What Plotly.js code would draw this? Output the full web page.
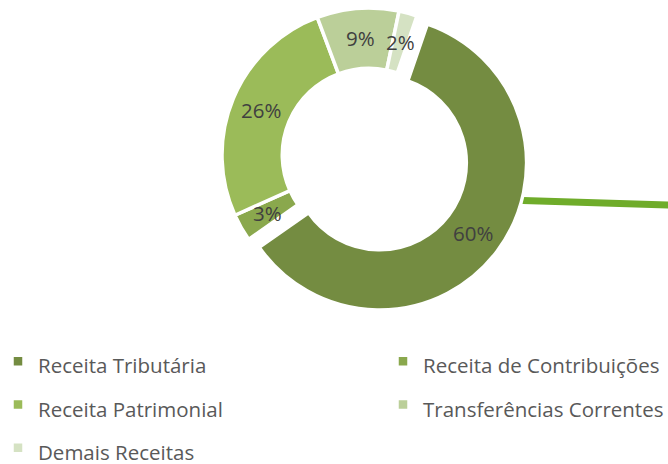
<!DOCTYPE html>
<html>
<head>
<meta charset="utf-8">
<script src="https://cdn.plot.ly/plotly-3.0.1.min.js"></script>
<style>
  html, body { margin: 0; padding: 0; overflow: hidden; background: #ffffff; width: 668px; height: 464px; }
  #chart { position: absolute; }
</style>
</head>
<body>
<div id="chart"></div>
<script>
// ---- data ----
const categories = ['Receita Tributária', 'Receita de Contribuições', 'Receita Patrimonial', 'Transferências Correntes', 'Demais Receitas'];
const shares = [60, 3, 26, 9, 2];
const sliceColors = ['#748C41', '#8AA84D', '#9BBB59', '#BBCF99', '#D5E2C3'];
const pulls = [0.09, 0, 0, 0, 0];

// ---- geometry (screen px) ----
const W = 800, Hp = 520;          // paper size (larger than the visible window, which crops it)
const OX = 2, OY = 10;            // paper offset relative to the window
const CX = 369, CY = 155, R = 147; // unpulled donut centre and outer radius on screen
const HOLE = 0.59, ROT = 19;
const maxPull = Math.max(...pulls);
const half = R * (1 + maxPull);

const chart = document.getElementById('chart');
chart.style.left = (-OX) + 'px';
chart.style.top = (-OY) + 'px';

const px = x => (x + OX) / W;
const py = y => 1 - (y + OY) / Hp;

const trace = {
  type: 'pie',
  labels: categories.map(c => '<span style="font-size:20.5px">' + c + '</span>'),
  values: shares,
  sort: false,
  direction: 'clockwise',
  rotation: ROT,
  hole: HOLE,
  pull: pulls,
  marker: { colors: sliceColors, line: { color: '#ffffff', width: 3.5 } },
  textinfo: 'none',
  domain: { x: [px(CX - half), px(CX + half)], y: [py(CY + half), py(CY - half)] },
  hoverinfo: 'label+percent'
};

// percentage labels at the middle of the ring, on each slice's bisector
const total = shares.reduce((a, b) => a + b, 0);
let acc = 0;
const labelAnnotations = shares.map((v, i) => {
  const midDeg = ROT + (acc + v / 2) / total * 360;
  acc += v;
  const a = midDeg * Math.PI / 180;
  const off = pulls[i] * R;
  const rr = R * (1 + HOLE) / 2;
  const sx = CX + (off + rr) * Math.sin(a);
  const sy = CY - (off + rr) * Math.cos(a);
  return {
    xref: 'paper', yref: 'paper', x: px(sx), y: py(sy),
    xanchor: 'center', yanchor: 'middle', showarrow: false,
    text: v + '%',
    font: { family: 'Open Sans', size: 20.5, color: '#404040' }
  };
});

const layout = {
  width: W,
  height: Hp,
  margin: { l: 0, r: 0, t: 0, b: 0 },
  paper_bgcolor: '#ffffff',
  showlegend: true,
  legend: {
    orientation: 'h',
    x: 0, xanchor: 'left',
    y: py(334.5), yanchor: 'top',
    entrywidth: 340, entrywidthmode: 'pixels',
    traceorder: 'normal',
    font: { family: 'Open Sans', size: 31, color: '#595959' },
    bgcolor: 'rgba(0,0,0,0)'
  },
  annotations: labelAnnotations,
  shapes: [{
    type: 'line', xref: 'paper', yref: 'paper', layer: 'below',
    x0: px(515), y0: py(200.3), x1: px(798), y1: py(209),
    line: { color: '#6FAC2A', width: 7 }
  }]
};

Plotly.newPlot('chart', [trace], layout, { displayModeBar: false, staticPlot: true });
</script>
</body>
</html>
